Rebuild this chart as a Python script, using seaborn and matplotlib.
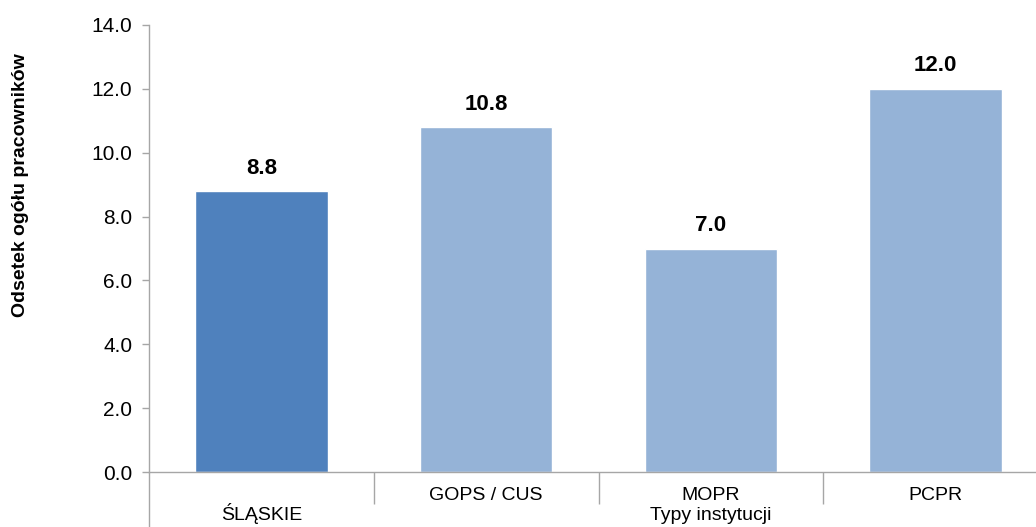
import matplotlib
matplotlib.use("Agg")
import matplotlib.pyplot as plt
import seaborn as sns
import pandas as pd

sns.set_style("white")
plt.rcParams['font.family'] = ['Liberation Sans Narrow', 'Liberation Sans', 'DejaVu Sans']
plt.rcParams['text.color'] = 'black'
plt.rcParams['xtick.color'] = 'black'
plt.rcParams['ytick.color'] = 'black'
plt.rcParams['axes.labelcolor'] = 'black'

kategorie = ["ŚLĄSKIE", "GOPS / CUS", "MOPR", "PCPR"]
etykiety = ["\nŚLĄSKIE", "GOPS / CUS", "MOPR", "PCPR"]
wartosci = [8.8, 10.8, 7.0, 12.0]
kolory = ["#4F81BD", "#95B3D7", "#95B3D7", "#95B3D7"]

dane = pd.DataFrame({"typ": kategorie, "odsetek": wartosci})

fig = plt.figure(figsize=(10.36, 5.27), dpi=100)
ax = fig.add_axes([149/1036, 55/527, 899/1036, 447/527])

sns.barplot(data=dane, x="typ", y="odsetek", hue="typ", palette=kolory,
            width=0.59, saturation=1, legend=False, ax=ax)

for c in ax.containers:
    ax.bar_label(c, fmt="%.1f", padding=9, fontsize=16, fontweight="bold", color="black")

ax.set_ylim(0, 14)
ax.set_xlim(-0.5, 3.5)
ax.set_yticks(range(0, 15, 2))
ax.set_yticklabels([f"{v:.1f}" for v in range(0, 15, 2)], fontsize=15)
ax.set_xticks(range(4))
ax.set_xticklabels(etykiety, fontsize=14, linespacing=0.95)
ax.set_xticks([0.5, 1.5, 2.5], minor=True)

grey = "#A6A6A6"
ax.tick_params(axis="y", which="major", direction="out", length=5, width=1, color=grey, pad=7, left=True)
ax.tick_params(axis="x", which="major", length=0, pad=11)
ax.tick_params(axis="x", which="minor", direction="out", length=23, width=1, color=grey, bottom=True)

sns.despine(ax=ax)
for s in ["left", "bottom"]:
    ax.spines[s].set_color(grey)
    ax.spines[s].set_linewidth(1)
ax.plot([0, 0], [0, -0.125], transform=ax.transAxes, color=grey, lw=1, clip_on=False)

ax.set_ylabel("Odsetek ogółu pracowników", fontsize=14, fontweight="bold")
ax.yaxis.set_label_coords(-0.1335, 0.642)
ax.set_xlabel("Typy instytucji", fontsize=14)
ax.xaxis.set_label_coords(0.625, -0.079)

fig.savefig("out.png", dpi=100)
